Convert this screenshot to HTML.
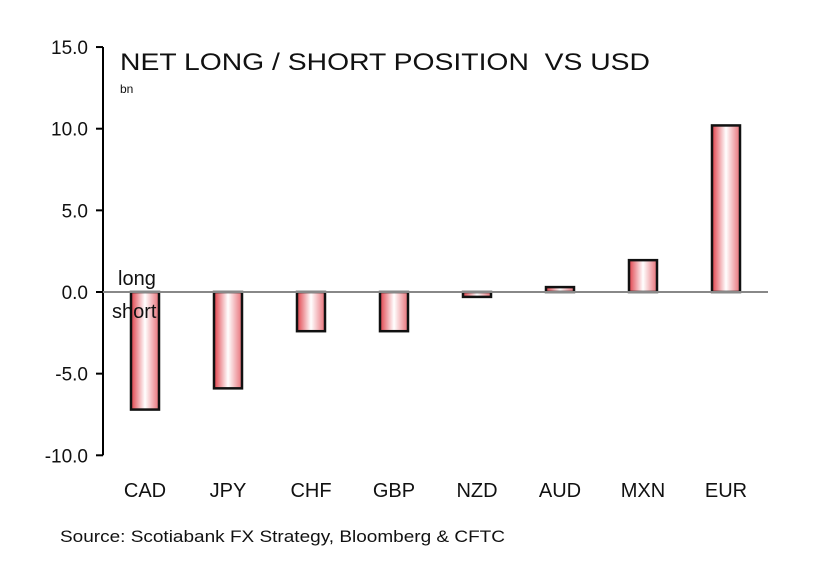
<!DOCTYPE html>
<html><head><meta charset="utf-8"><style>
body{margin:0;background:#fff;width:827px;height:571px;overflow:hidden}
svg text{font-family:"Liberation Sans",Arial,sans-serif;fill:#111}
</style></head><body>
<svg width="827" height="571">
<defs><linearGradient id="g" x1="0" x2="1" y1="0" y2="0">
<stop offset="0" stop-color="#e0404a"/><stop offset="0.5" stop-color="#ffffff"/><stop offset="1" stop-color="#e87078"/></linearGradient></defs>
<g id="ax"></g><g id="bars"></g>
<text x="120" y="70" font-size="24" textLength="530" lengthAdjust="spacingAndGlyphs">NET LONG / SHORT POSITION&#160; VS USD</text>
<text x="120" y="93" font-size="12">bn</text>
<text x="118" y="285" font-size="20">long</text>
<text x="112" y="318" font-size="20">short</text>
<text x="60" y="542" font-size="17" textLength="445" lengthAdjust="spacingAndGlyphs">Source: Scotiabank FX Strategy, Bloomberg &amp; CFTC</text>
</svg>
<script>
const categories=["CAD","JPY","CHF","GBP","NZD","AUD","MXN","EUR"];
const values=[-7.2,-5.9,-2.4,-2.4,-0.3,0.3,1.95,10.2];
const ticks=[15,10,5,0,-5,-10];
const NS="http://www.w3.org/2000/svg";
const y=v=>292-v*16.33, x=i=>145+i*83;
const ax=document.getElementById('ax'), bars=document.getElementById('bars');
function mk(p,t,a){const e=document.createElementNS(NS,t);for(const k in a)e.setAttribute(k,a[k]);p.appendChild(e);return e;}
let yl=mk(ax,'line',{x1:103,x2:103,y1:y(15),y2:y(-10),stroke:'#000','stroke-width':2});


ticks.forEach(t=>{
 let l=mk(ax,'line',{x1:96,x2:103,y1:y(t),y2:y(t),stroke:'#000','stroke-width':2});
 
 
 let tx=mk(ax,'text',{x:88,y:y(t)+7,'font-size':19,'text-anchor':'end'});
 tx.textContent=t.toFixed(1);
 
 
});
categories.forEach((c,i)=>{
 const v=values[i];
 let r=mk(bars,'rect',{x:x(i)-14,y:Math.min(y(v),y(0)),width:28,height:Math.abs(y(v)-y(0)),fill:'url(#g)',stroke:'#111','stroke-width':2.5});
 
 
 let t=mk(ax,'text',{x:x(i),y:497,'font-size':20,'text-anchor':'middle'});
 t.textContent=c;
 
 
});
let z=mk(bars,'line',{x1:103,x2:768,y1:y(0),y2:y(0),stroke:'#888','stroke-width':2});


</script>
</body></html>
